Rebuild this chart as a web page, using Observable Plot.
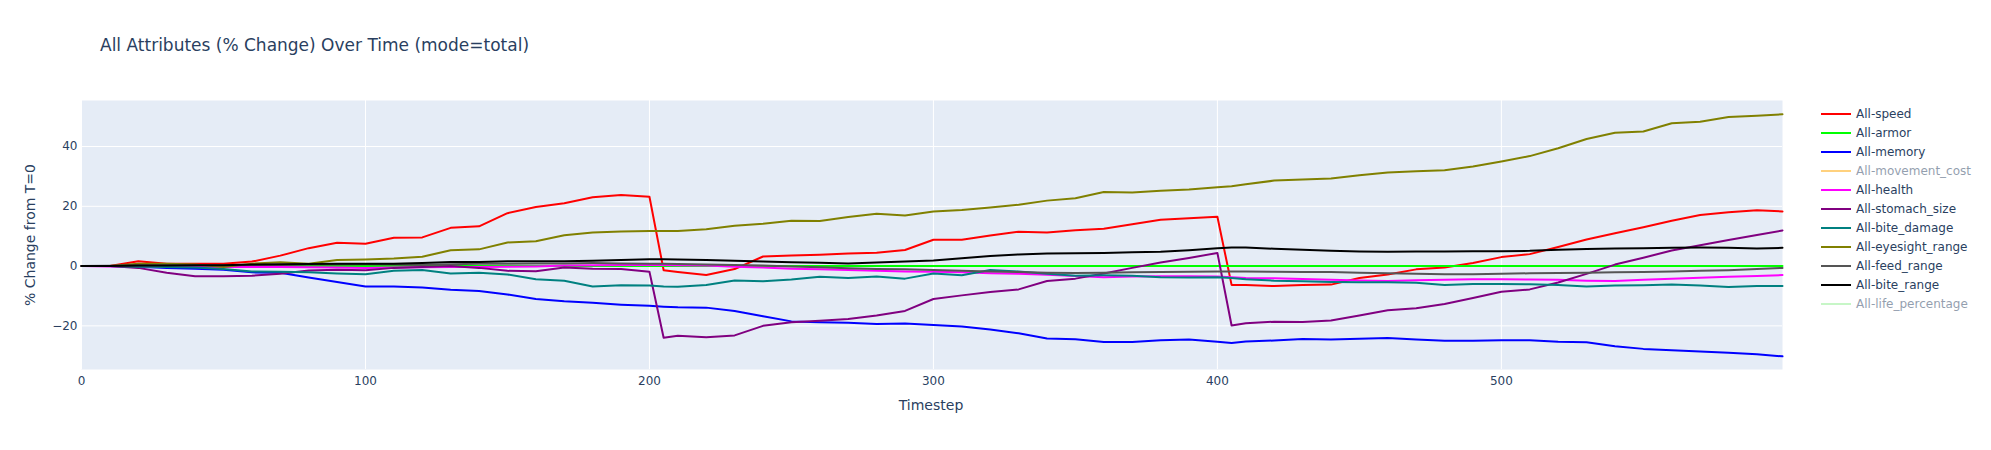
<!DOCTYPE html>
<html>
<head>
<meta charset="utf-8">
<script src="https://cdn.jsdelivr.net/npm/d3@7"></script>
<script src="https://cdn.jsdelivr.net/npm/@observablehq/plot@0.6"></script>
<style>
  html, body { margin: 0; padding: 0; background: #fff; }
  #wrap { position: relative; width: 1991px; height: 450px; font-family: "DejaVu Sans", Verdana, sans-serif; color: #2a3f5f; }
  #chart { position: absolute; left: 0; top: 0; }
  .title { position: absolute; left: 100px; top: 36.5px; font-size: 17px; line-height: 17px; white-space: nowrap; }
  .xtitle { position: absolute; left: 831px; width: 200px; text-align: center; top: 396px; font-size: 14px; line-height: 18px; }
  .ytitle { position: absolute; left: 30px; top: 235px; font-size: 14px; line-height: 18px; white-space: nowrap; transform: translate(-50%, -50%) rotate(-90deg); }
  .leg { position: absolute; left: 1821px; height: 19px; display: flex; align-items: center; font-size: 12px; white-space: nowrap; }
  .leg svg { margin-right: 5px; }
</style>
</head>
<body>
<div id="wrap">
  <div id="chart"></div>
  <div class="title">All Attributes (% Change) Over Time (mode=total)</div>
  <div class="xtitle">Timestep</div>
  <div class="ytitle">% Change from T=0</div>
  <div id="legend"></div>
</div>
<script>
const timesteps = [0,10,20,30,40,50,60,70,80,90,100,110,120,130,140,150,160,170,180,190,200,205,
  210,220,230,240,250,260,270,280,290,300,310,320,330,340,350,360,370,380,390,400,405,
  410,420,430,440,450,460,470,480,490,500,510,520,530,540,550,560,570,580,590,599];

const speed = [0,0,1.6,0.8,0.8,0.8,1.5,3.5,6,7.8,7.5,9.5,9.6,12.8,13.3,17.7,19.8,21,23,23.8,23.2,-1.4,
  -2,-3,-1,3.2,3.5,3.8,4.2,4.5,5.4,8.8,8.8,10.2,11.5,11.2,12,12.5,14,15.5,16,16.5,-6.3,
  -6.3,-6.7,-6.3,-6.2,-4,-2.8,-1.1,-0.5,1,3,4,6.4,8.9,11,13,15.2,17.1,18,18.7,18.3];
const armor = [0,0,0,0,0,0,0,0,0,0,0,0,0,0,0,0,0,0,0,0,0,0,
  0,0,0,0,0,0,0,0,0,0,0,0,0,0,0,0,0,0,0,0,0,
  0,0,0,0,0,0,0,0,0,0,0,0,0,0,0,0,0,0,0,0];
const memory = [0,0,-0.2,-0.6,-0.9,-1.2,-2.1,-2.2,-3.8,-5.3,-6.8,-6.8,-7.2,-7.9,-8.3,-9.5,-11,-11.8,-12.3,-12.9,-13.3,-13.6,
  -13.8,-13.9,-15,-16.8,-18.5,-18.8,-19,-19.4,-19.2,-19.7,-20.2,-21.2,-22.5,-24.2,-24.5,-25.4,-25.4,-24.8,-24.6,-25.3,-25.7,
  -25.2,-24.9,-24.4,-24.6,-24.3,-24.1,-24.6,-25,-25,-24.8,-24.8,-25.3,-25.5,-26.8,-27.7,-28.2,-28.6,-29,-29.5,-30.2];
const health = [0,-0.1,-0.2,-0.3,-0.3,-0.3,-0.3,-0.3,-0.4,-0.5,-0.6,-0.5,-0.4,-0.3,-0.3,-0.2,-0.1,0.2,0.3,0.4,0.4,0.4,
  0.3,0.2,-0.2,-0.5,-0.9,-1.1,-1.3,-1.6,-1.8,-1.9,-2.1,-2.4,-2.6,-2.9,-3.3,-3.7,-3.5,-3.4,-3.4,-3.5,-3.7,
  -4,-4.1,-4.3,-4.6,-4.8,-5,-4.7,-4.6,-4.4,-4.4,-4.5,-4.6,-4.9,-5,-4.6,-4.2,-3.9,-3.6,-3.3,-3];
const stomachSize = [0,0,-0.6,-2.2,-3.4,-3.4,-3.2,-2.6,-1.5,-1.2,-1.4,-0.6,-0.3,0,-0.6,-1.6,-1.7,-0.5,-0.9,-1,-1.9,-24,
  -23.3,-23.8,-23.2,-20,-18.8,-18.3,-17.7,-16.5,-15,-11,-9.8,-8.7,-7.8,-5,-4.2,-2.5,-0.6,1.2,2.7,4.4,-19.9,
  -19.1,-18.6,-18.7,-18.2,-16.5,-14.8,-14.1,-12.7,-10.7,-8.6,-7.8,-5.5,-2.6,0.5,2.8,5.2,7,8.7,10.4,11.9];
const biteDamage = [0,0,-0.2,-0.3,-0.5,-1,-1.8,-1.9,-2.1,-2.5,-2.7,-1.6,-1.3,-2.5,-2.2,-2.8,-4.4,-4.9,-6.8,-6.4,-6.5,-6.8,
  -6.9,-6.3,-4.8,-5.1,-4.5,-3.6,-4,-3.5,-4.2,-2.5,-3.1,-1.3,-1.8,-2.6,-3.2,-3.1,-3.2,-3.7,-3.8,-3.7,-4,
  -4.4,-4.9,-5.1,-5.3,-5.4,-5.4,-5.6,-6.3,-6,-6,-6.1,-6.3,-6.8,-6.5,-6.4,-6.2,-6.5,-7,-6.7,-6.7];
const eyesightRange = [0,0,0.8,0.8,0.5,-0.3,0.8,1.3,0.8,2,2.2,2.5,3.1,5.3,5.6,7.9,8.3,10.3,11.2,11.6,11.7,11.7,
  11.7,12.3,13.5,14.2,15.2,15.1,16.4,17.5,16.9,18.3,18.8,19.6,20.5,21.9,22.7,24.8,24.6,25.2,25.6,26.4,26.7,
  27.4,28.6,29,29.3,30.4,31.3,31.7,32.1,33.3,35,36.8,39.4,42.5,44.6,45,47.8,48.3,49.9,50.3,50.8];
const feedRange = [0,0.1,0.3,0.3,0.3,0.3,0.4,0.4,0.5,0.5,0.6,0.5,0.4,0.6,0.8,0.8,0.9,0.9,1,0.9,0.8,0.8,
  0.7,0.5,0.4,0.2,-0.1,-0.4,-0.7,-1,-1.1,-1.3,-1.6,-1.8,-2,-2.2,-2.3,-2.2,-2.1,-2,-1.9,-1.8,-1.8,
  -1.8,-1.9,-2,-2,-2.2,-2.4,-2.6,-2.7,-2.7,-2.6,-2.4,-2.3,-2.2,-2.1,-2,-1.8,-1.6,-1.4,-1,-0.6];
const biteRange = [0,0,0.2,0.2,0.3,0.3,0.5,0.6,0.7,0.8,0.8,0.8,1,1.4,1.4,1.6,1.6,1.6,1.8,2,2.3,2.3,
  2.2,2,1.8,1.5,1.3,1.1,0.9,1.2,1.5,1.9,2.6,3.4,3.9,4.2,4.3,4.4,4.6,4.8,5.3,6,6.2,
  6.2,5.8,5.5,5.1,4.9,4.8,4.9,4.9,5,5,5.1,5.5,5.7,5.9,6,6.1,6.2,6.1,5.9,6.1];

const seriesNames = ["All-speed","All-armor","All-memory","All-movement_cost","All-health","All-stomach_size",
  "All-bite_damage","All-eyesight_range","All-feed_range","All-bite_range","All-life_percentage"];
const seriesColors = ["#ff0000","#00ff00","#0000ff","#ffa500","#ff00ff","#800080",
  "#008080","#808000","#555555","#000000","#90ee90"];
const seriesVisible = [true,true,true,false,true,true,true,true,true,true,false];
const seriesValues = [speed, armor, memory, null, health, stomachSize, biteDamage, eyesightRange, feedRange, biteRange, null];

const xTicks = [0,100,200,300,400,500];
const yTicks = [-20,0,20,40];

const rows = [];
seriesNames.forEach((name, i) => {
  if (!seriesVisible[i]) return;
  seriesValues[i].forEach((v, j) => rows.push({series: name, t: timesteps[j], v}));
});

const chart = Plot.plot({
  width: 1991,
  height: 450,
  marginLeft: 81,
  marginRight: 209,
  marginTop: 100,
  marginBottom: 81,
  style: {fontFamily: "'DejaVu Sans', Verdana, sans-serif", fontSize: "12px", color: "#2a3f5f", background: "transparent"},
  x: {domain: [0, 599], ticks: xTicks},
  y: {domain: [-34.6, 55.4], ticks: yTicks},
  color: {domain: seriesNames, range: seriesColors},
  marks: [
    Plot.frame({fill: "#E5ECF6", stroke: null}),
    Plot.gridX(xTicks, {stroke: "#ffffff", strokeOpacity: 1, strokeWidth: 1}),
    Plot.gridY(yTicks, {stroke: "#ffffff", strokeOpacity: 1, strokeWidth: 1}),
    Plot.ruleY([0], {stroke: "#ffffff", strokeWidth: 2}),
    Plot.line(rows, {x: "t", y: "v", z: "series", stroke: "series", strokeWidth: 2, strokeLinejoin: "round"}),
    Plot.axisX({ticks: xTicks, tickSize: 0, tickPadding: 7, label: null, fill: "#2a3f5f"}),
    Plot.axisY({ticks: yTicks, tickSize: 0, tickPadding: 4, label: null, fill: "#2a3f5f"})
  ]
});
document.getElementById("chart").appendChild(chart);

const legend = document.getElementById("legend");
seriesNames.forEach((name, i) => {
  const item = document.createElement("div");
  item.className = "leg";
  item.style.top = (104.5 + 19 * i) + "px";
  if (!seriesVisible[i]) item.style.opacity = 0.5;
  item.innerHTML = `<svg width="30" height="4"><line x1="0" x2="30" y1="2" y2="2" stroke="${seriesColors[i]}" stroke-width="2"/></svg><span>${name}</span>`;
  legend.appendChild(item);
});
</script>
</body>
</html>
